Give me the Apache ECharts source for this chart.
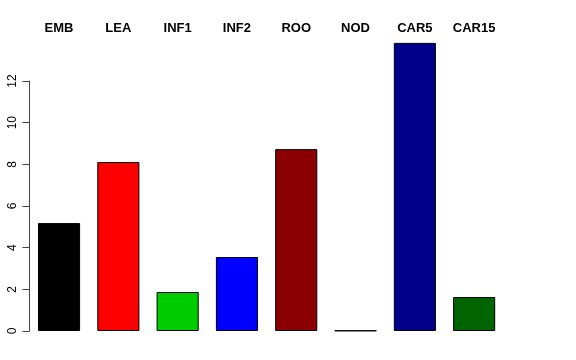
<!DOCTYPE html>
<html><head><meta charset="utf-8">
<script src="https://cdn.jsdelivr.net/npm/echarts@6/dist/echarts.min.js"></script>
<style>html,body{margin:0;padding:0;background:#fff}#c{width:576px;height:360px}</style>
</head><body><div id="c"></div>
<script>
const categories = ["EMB","LEA","INF1","INF2","ROO","NOD","CAR5","CAR15"];
const values = [5.18, 8.11, 1.87, 3.55, 8.73, 0.02, 13.83, 1.63];
const colors = ["#000000","#FF0000","#00CD00","#0000FF","#8B0000","#A020F0","#00008B","#006400"];
const yTicks = [0,2,4,6,8,10,12];

const chart = echarts.init(document.getElementById('c'), null, {renderer:'canvas'});
chart.setOption({
  animation:false,
  backgroundColor:'#fff',
  grid:{left:29.4, width:474.4, top:81, bottom:29},
  xAxis:{type:'category', data:categories, position:'top',
    axisLine:{show:false}, axisTick:{show:false},
    axisLabel:{margin:46, fontFamily:'Liberation Sans, Arial, sans-serif', fontWeight:'bold', fontSize:13, color:'#000'}},
  yAxis:{type:'value', min:yTicks[0], max:yTicks[yTicks.length-1], interval:2,
    splitLine:{show:false},
    axisLine:{show:true, lineStyle:{color:'#444', width:1}},
    axisTick:{show:true, length:7, lineStyle:{color:'#444'}},
    axisLabel:{rotate:90, margin:11, fontFamily:'Liberation Sans, Arial, sans-serif', fontSize:12, color:'#000'}},
  series:[{type:'bar', clip:false, barCategoryGap:'29%',
    data: values.map((v,i)=>({value:v, itemStyle:{color:colors[i]}})),
    itemStyle:{borderColor:'#000', borderWidth:1}}]
});
</script></body></html>
